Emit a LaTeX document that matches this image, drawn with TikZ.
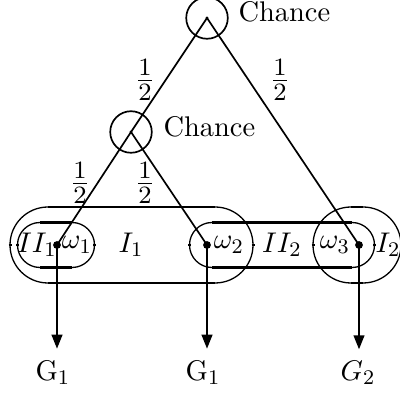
\documentclass[tikz,border=0pt]{standalone}
\usepackage{tikz}
\usetikzlibrary{positioning,arrows.meta}

\begin{document}
\begin{tikzpicture}[x=0.385pt,y=0.385pt,font=\fontsize{10.95}{13.6}\selectfont,
    chance/.style={circle,draw,line width=0.65pt,minimum size=16pt,inner sep=0pt},
    leaf/.style={circle,fill,inner sep=0pt,minimum size=3pt},
    edge/.style={line width=0.65pt},
    setarc/.style={line width=0.5pt},
    setbar/.style={line width=1pt},
    move/.style={line width=1.1pt,-{Triangle[length=5.5pt,width=4pt]},shorten >=0.7pt},
    lbl/.style={inner sep=0pt},
    prob/.style={inner sep=0pt,scale=1.2}]
  \clip (0,0) rectangle (400,394);

  % chance nodes and leaves
  \node[chance] (c0) at (207,376) {};
  \node[chance] (c1) at (131,262) {};
  \fill (c0.center) circle (1.6) (c1.center) circle (1.6);
  \node[lbl, right=3.6pt of c0, yshift=2.3pt] (t0) {Chance};
  \node[lbl, right=4pt of c1, yshift=1.9pt] (t1) {Chance};
  \node[leaf] (w1) at (57,149) {};
  \node[leaf] (w2) at (207,149) {};
  \node[leaf] (w3) at (359,149) {};

  % tree edges
  \draw[edge] (c0.center) -- (c1.center);
  \draw[edge] (c0.center) -- (w3.center);
  \draw[edge] (c1.center) -- (w1.center);
  \draw[edge] (c1.center) -- (w2.center);
  \node[prob] (p1) at (145,314) {$\frac{1}{2}$};
  \node[prob] (p2) at (280,314) {$\frac{1}{2}$};
  \node[prob] (p3) at (80,211) {$\frac{1}{2}$};
  \node[prob] (p4) at (145,211) {$\frac{1}{2}$};

  % information sets: thin ends, thick sides
  \foreach \xa/\xb/\r in {40/72/22.5, 48/215/38, 212/352/22.5, 351/363/38} {
    \draw[setarc] (\xa,{149+\r}) arc (90:270:\r);
    \draw[setarc] (\xb,{149-\r}) arc (-90:90:\r);
    \draw[setbar] (\xa,{149+\r}) -- (\xb,{149+\r});
    \draw[setbar] (\xa,{149-\r}) -- (\xb,{149-\r});
    \draw[setbar] ({\xa-\r-1.5},149) -- ++(3,0);
    \draw[setbar] ({\xb+\r-1.5},149) -- ++(3,0);
  }
  \node[lbl] (ii1) at (37,149) {$II_1$};
  \node[lbl] (om1) at (77,149) {$\omega_1$};
  \node[lbl] (i1) at (131,149) {$I_1$};
  \node[lbl] (om2) at (229,149) {$\omega_2$};
  \node[lbl] (ii2) at (282,149) {$II_2$};
  \node[lbl] (om3) at (335,149) {$\omega_3$};
  \node[lbl] (i2) at (388,149) {$I_2$};

  % outcomes
  \node[anchor=base] (g1) at (53,14) {G$_1$};
  \node[anchor=base] (g2) at (203,14) {G$_1$};
  \node[anchor=base] (g3) at (358,14) {$G_2$};
  \draw[move] (w1.center) -- (w1.center |- g1.north);
  \draw[move] (w2.center) -- (w2.center |- g2.north);
  \draw[move] (w3.center) -- (w3.center |- g3.north);
\end{tikzpicture}
\end{document}
